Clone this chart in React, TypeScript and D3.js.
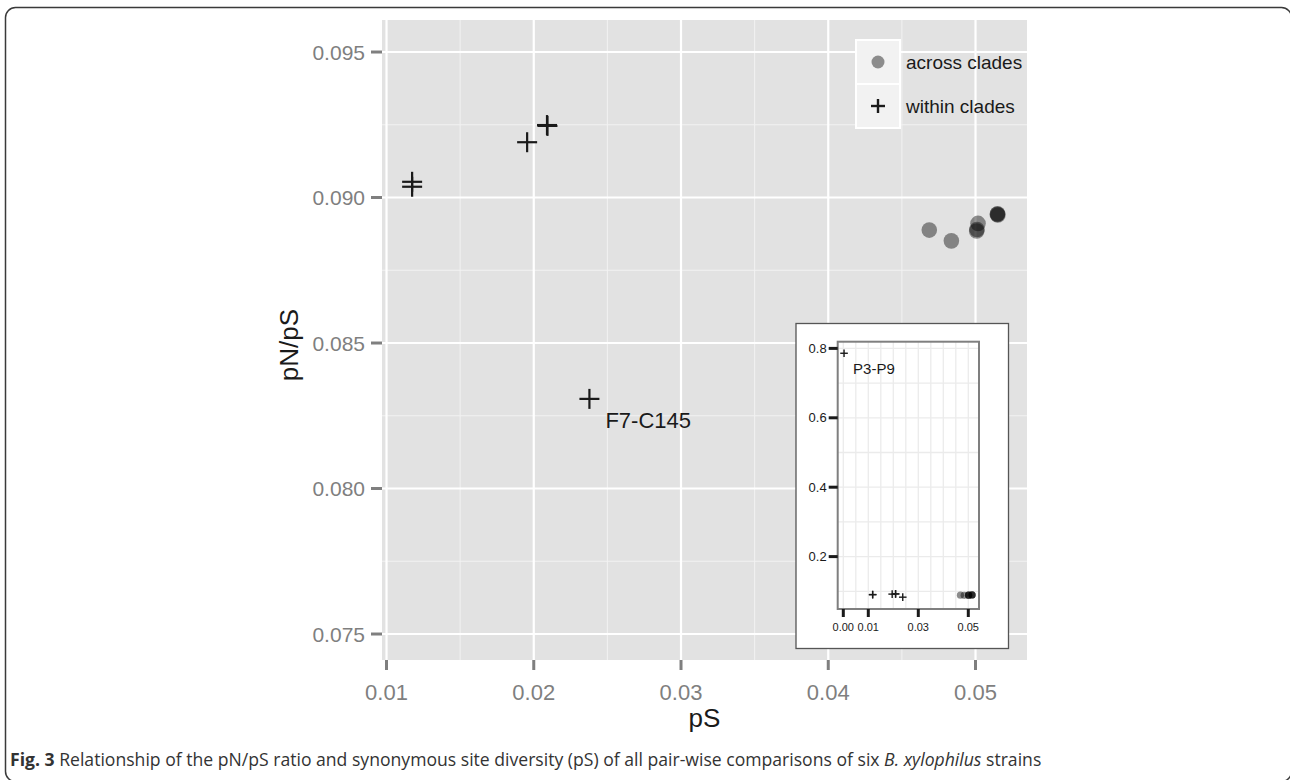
import React from "react";
import * as d3 from "d3";

const withinPS = [0.01174, 0.01174, 0.01955, 0.0209, 0.02093, 0.02378, 0.0003];
const withinPNPS = [0.09054, 0.09037, 0.0919, 0.09249, 0.09246, 0.08308, 0.786];
const withinLabels = ["", "", "", "", "", "F7-C145", "P3-P9"];
const acrossPS = [0.04686, 0.04836, 0.05017, 0.0501, 0.05008, 0.0515, 0.05152, 0.05148];
const acrossPNPS = [0.08888, 0.08851, 0.08911, 0.0889, 0.08885, 0.08944, 0.0894, 0.08942];
const mainXTicks = [0.01, 0.02, 0.03, 0.04, 0.05];
const mainXMinor = [0.015, 0.025, 0.035, 0.045];
const mainYTicks = [0.075, 0.08, 0.085, 0.09, 0.095];
const mainYMinor = [0.0775, 0.0825, 0.0875, 0.0925];
const insetXTicks = [0, 0.01, 0.03, 0.05];
const insetXGrid = [0, 0.005, 0.01, 0.015, 0.02, 0.025, 0.03, 0.035, 0.04, 0.045, 0.05];
const insetYTicks = [0.2, 0.4, 0.6, 0.8];
const insetYGrid = [0.1, 0.2, 0.3, 0.4, 0.5, 0.6, 0.7, 0.8];
const legendLabels = ["across clades", "within clades"];

const FONT = "'Liberation Sans', Arial, Helvetica, sans-serif";

export default function App() {
  // main panel
  const P = { l: 382, r: 1027, t: 20, b: 660 };
  const x = d3.scaleLinear().domain([0.009694, 0.053497]).range([P.l, P.r]);
  const y = d3.scaleLinear().domain([0.074107, 0.0961]).range([P.b, P.t]);
  // inset panel
  const I = { l: 837.7, r: 979, t: 341.7, b: 609 };
  const ix = d3.scaleLinear().domain([-0.00224, 0.05428]).range([I.l, I.r]);
  const iy = d3.scaleLinear().domain([0.049, 0.8193]).range([I.b, I.t]);

  const within = withinPS.map((v, i) => ({ x: v, y: withinPNPS[i], label: withinLabels[i] }));
  const across = acrossPS.map((v, i) => ({ x: v, y: acrossPNPS[i] }));
  const inMain = (d: { x: number; y: number }) =>
    d.x >= x.domain()[0] && d.x <= x.domain()[1] && d.y >= y.domain()[0] && d.y <= y.domain()[1];

  const fmt3 = d3.format(".3f");
  const fmt2 = d3.format(".2f");
  const fmt1 = d3.format(".1f");

  const cross = (cx: number, cy: number, h: number, sw: number, key: string) => (
    <g key={key} stroke="#1a1a1a" strokeWidth={sw}>
      <line x1={cx - h} x2={cx + h} y1={cy} y2={cy} />
      <line x1={cx} x2={cx} y1={cy - h} y2={cy + h} />
    </g>
  );

  return (
    <svg
      width={1290}
      height={780}
      style={{ position: "absolute", left: 0, top: 0, background: "#fff" }}
      fontFamily={FONT}
    >
      {/* outer frame */}
      <rect x={5.5} y={7.5} width={1286} height={774} rx={10} ry={10} fill="none" stroke="#3a3a3a" strokeWidth={1.5} />

      {/* main panel */}
      <rect x={P.l} y={P.t} width={P.r - P.l} height={P.b - P.t} fill="#e2e2e2" />
      {mainXMinor.map((t) => (
        <line key={"xm" + t} x1={x(t)} x2={x(t)} y1={P.t} y2={P.b} stroke="#f2f2f2" strokeWidth={1} />
      ))}
      {mainYMinor.map((t) => (
        <line key={"ym" + t} y1={y(t)} y2={y(t)} x1={P.l} x2={P.r} stroke="#f2f2f2" strokeWidth={1} />
      ))}
      {mainXTicks.map((t) => (
        <line key={"xg" + t} x1={x(t)} x2={x(t)} y1={P.t} y2={P.b} stroke="#fff" strokeWidth={2.2} />
      ))}
      {mainYTicks.map((t) => (
        <line key={"yg" + t} y1={y(t)} y2={y(t)} x1={P.l} x2={P.r} stroke="#fff" strokeWidth={2.2} />
      ))}

      {/* axes ticks & labels */}
      {mainXTicks.map((t) => (
        <g key={"xt" + t}>
          <line x1={x(t)} x2={x(t)} y1={P.b} y2={P.b + 10} stroke="#7f7f7f" strokeWidth={3} />
          <text x={x(t)} y={P.b + 40} textAnchor="middle" fontSize={22} fill="#7f7f7f">
            {fmt2(t)}
          </text>
        </g>
      ))}
      {mainYTicks.map((t) => (
        <g key={"yt" + t}>
          <line x1={P.l - 11} x2={P.l} y1={y(t)} y2={y(t)} stroke="#7f7f7f" strokeWidth={3} />
          <text x={P.l - 17} y={y(t) + 7.5} textAnchor="end" fontSize={21} fill="#7f7f7f">
            {fmt3(t)}
          </text>
        </g>
      ))}
      <text x={(P.l + P.r) / 2} y={727} textAnchor="middle" fontSize={26} fill="#1a1a1a">
        pS
      </text>
      <text
        transform={`translate(298, ${(P.t + P.b) / 2 + 5}) rotate(-90)`}
        textAnchor="middle"
        fontSize={26}
        fill="#1a1a1a"
      >
        pN/pS
      </text>

      {/* across points */}
      {across.filter(inMain).map((d, i) => (
        <circle key={"a" + i} cx={x(d.x)} cy={y(d.y)} r={7.8} fill="#000" fillOpacity={0.42} />
      ))}
      {/* within points */}
      {within.filter(inMain).map((d, i) => cross(x(d.x), y(d.y), 10, 2.2, "w" + i))}
      {within.filter(inMain).map((d, i) =>
        d.label ? (
          <text key={"wl" + i} x={x(d.x) + 16} y={y(d.y) + 29} fontSize={22} fill="#1a1a1a">
            {d.label}
          </text>
        ) : null
      )}

      {/* legend */}
      {legendLabels.map((lab, i) => (
        <g key={"lg" + i}>
          <rect x={856} y={40 + i * 44} width={44} height={44} fill="#f2f2f2" stroke="#fff" strokeWidth={2} />
          {i === 0 ? (
            <circle cx={878} cy={62} r={6.5} fill="#000" fillOpacity={0.42} />
          ) : (
            cross(878, 106, 7, 2.4, "lgc")
          )}
          <text x={906} y={62 + i * 44 + 6.5} fontSize={19} fill="#1a1a1a">
            {lab}
          </text>
        </g>
      ))}

      {/* inset */}
      <rect x={796} y={323.5} width={212.5} height={325} fill="#fff" stroke="#555" strokeWidth={1.3} />
      {insetXGrid.map((t) => (
        <line key={"ixg" + t} x1={ix(t)} x2={ix(t)} y1={I.t} y2={I.b} stroke="#ebebeb" strokeWidth={1.3} />
      ))}
      {insetYGrid.map((t) => (
        <line key={"iyg" + t} y1={iy(t)} y2={iy(t)} x1={I.l} x2={I.r} stroke="#ebebeb" strokeWidth={1.3} />
      ))}
      {across.map((d, i) => (
        <circle key={"ia" + i} cx={ix(d.x)} cy={iy(d.y)} r={3.6} fill="#000" fillOpacity={0.45} />
      ))}
      {within.map((d, i) => cross(ix(d.x), iy(d.y), 3.8, 1.4, "iw" + i))}
      {within.map((d, i) =>
        d.label === "P3-P9" ? (
          <text key={"iwl" + i} x={ix(d.x) + 9} y={iy(d.y) + 21} fontSize={15} fill="#1a1a1a">
            {d.label}
          </text>
        ) : null
      )}
      <rect x={I.l} y={I.t} width={I.r - I.l} height={I.b - I.t} fill="none" stroke="#7f7f7f" strokeWidth={2} />
      {insetXTicks.map((t) => (
        <g key={"ixt" + t}>
          <line x1={ix(t)} x2={ix(t)} y1={I.b} y2={I.b + 8} stroke="#1a1a1a" strokeWidth={3} />
          <text x={ix(t)} y={I.b + 22} textAnchor="middle" fontSize={11} fill="#1a1a1a">
            {fmt2(t)}
          </text>
        </g>
      ))}
      {insetYTicks.map((t) => (
        <g key={"iyt" + t}>
          <line x1={I.l - 9} x2={I.l} y1={iy(t)} y2={iy(t)} stroke="#1a1a1a" strokeWidth={3} />
          <text x={I.l - 11} y={iy(t) + 4.5} textAnchor="end" fontSize={13} fill="#1a1a1a">
            {fmt1(t)}
          </text>
        </g>
      ))}

      {/* caption */}
      <text x={10} y={766} fontSize={17.6} fill="#333" fontFamily="'Open Sans', 'Noto Sans', sans-serif">
        <tspan fontWeight="bold">Fig. 3</tspan>
        <tspan> Relationship of the pN/pS ratio and synonymous site diversity (pS) of all pair-wise comparisons of six </tspan>
        <tspan fontStyle="italic">B. xylophilus</tspan>
        <tspan> strains</tspan>
      </text>
    </svg>
  );
}
